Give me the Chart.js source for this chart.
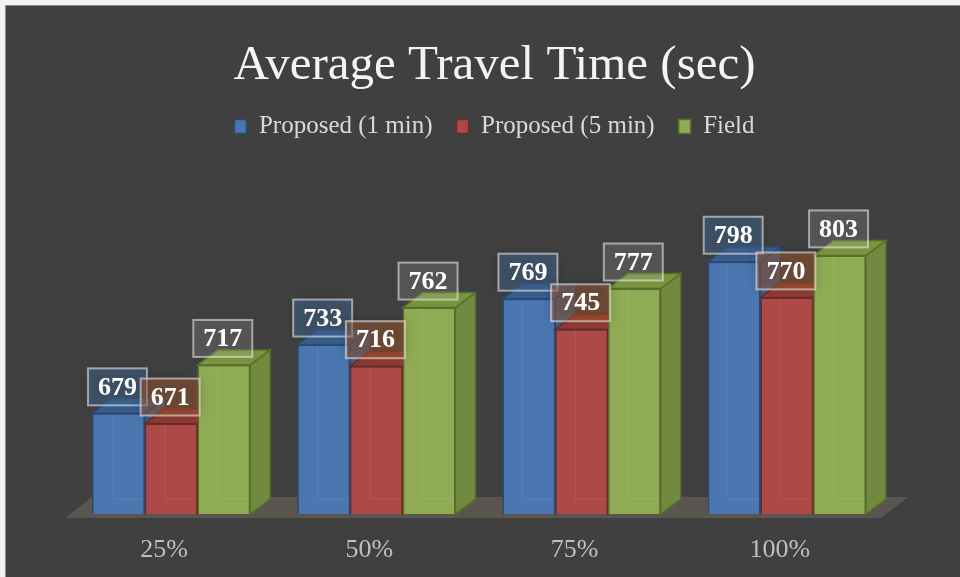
<!DOCTYPE html>
<html><head><meta charset="utf-8">
<script src="https://cdn.jsdelivr.net/npm/chart.js@4.4.1/dist/chart.umd.min.js"></script>
<style>
html,body{margin:0;padding:0;background:#f2f2f2;width:960px;height:577px;overflow:hidden}
#wrap{position:absolute;left:5px;top:5px;width:955px;height:572px;background:#404040;border-left:1px solid #8f8f8f;border-top:1px solid #8f8f8f}
canvas{display:block}
</style></head><body>
<div id="wrap"><canvas id="c" width="955" height="572"></canvas></div>
<script>
const categories = ['25%', '50%', '75%', '100%'];
const seriesNames = ['Proposed (1 min)', 'Proposed (5 min)', 'Field'];
const proposed1 = [679, 733, 769, 798];
const proposed5 = [671, 716, 745, 770];
const field = [717, 762, 777, 803];
const axisMin = 600, axisMax = 850;

const FONT = "'Liberation Serif', 'DejaVu Serif', serif";
const DX = 20, DY = -15;
const styles = [
  {front:'#4a77af', side:'#3b6192', top:'#3a6194', edge:'#2b4b73', box:'rgba(70,110,160,0.45)'},
  {front:'#ad4a48', side:'#8c3a36', top:'#923c32', edge:'#6e2a28', box:'rgba(170,95,50,0.45)'},
  {front:'#8fac54', side:'#728a40', top:'#7a963f', edge:'#55702a', box:'rgba(255,255,255,0.12)'}
];

function poly(ctx, pts, fill, stroke) {
  ctx.beginPath();
  ctx.moveTo(pts[0][0], pts[0][1]);
  for (let i = 1; i < pts.length; i++) ctx.lineTo(pts[i][0], pts[i][1]);
  ctx.closePath();
  ctx.fillStyle = fill; ctx.fill();
  if (stroke) { ctx.strokeStyle = stroke; ctx.lineWidth = 1.5; ctx.stroke(); }
}

const bars3d = {
  id: 'bars3d',
  beforeDatasetsDraw(chart) {
    const {ctx, chartArea: a} = chart;
    const b = a.bottom + 4;
    poly(ctx, [[a.left - 3.5, b], [a.right - 8.5, b], [a.right + 18.5, b - 21], [a.left + 23.5, b - 21]], '#5a564f');
  },
  afterDatasetsDraw(chart) {
    const ctx = chart.ctx;
    const a = chart.chartArea;
    const b = chart.scales.y.getPixelForValue(axisMin);
    const n = chart.data.labels.length;
    // bars, drawn left to right so that nearer faces cover hidden ones
    for (let j = 0; j < n; j++) {
      chart.data.datasets.forEach((ds, i) => {
        const st = styles[i];
        const el = chart.getDatasetMeta(i).data[j];
        const p = el.getProps(['x', 'y', 'width'], true);
        const l = p.x - p.width / 2, r = p.x + p.width / 2, t = p.y;
        ctx.save();
        ctx.beginPath();
        ctx.rect(0, 0, chart.width, a.bottom);
        ctx.clip();
        el.draw(ctx, a);
        ctx.restore();
        ctx.save();
        ctx.strokeStyle = 'rgba(255,255,255,0.08)';
        ctx.lineWidth = 1;
        ctx.beginPath();
        ctx.moveTo(l + DX, t); ctx.lineTo(l + DX, b + DY); ctx.lineTo(r, b + DY);
        ctx.stroke();
        poly(ctx, [[r, t], [r + DX, t + DY], [r + DX, b + DY], [r, b]], st.side, st.edge);
        poly(ctx, [[l, t], [r, t], [r + DX, t + DY], [l + DX, t + DY]], st.top, st.edge);
        ctx.restore();
      });
    }
    // value labels
    chart.data.datasets.forEach((ds, i) => {
      const meta = chart.getDatasetMeta(i);
      meta.data.forEach((el, j) => {
        const p = el.getProps(['x', 'y'], true);
        const w = 59, h = 37;
        const x0 = p.x - w / 2 - 1, y0 = p.y - 8 - h;
        ctx.save();
        ctx.shadowColor = 'rgba(0,0,0,0.45)';
        ctx.shadowBlur = 10;
        ctx.fillStyle = styles[i].box;
        ctx.fillRect(x0, y0, w, h);
        ctx.restore();
        ctx.save();
        ctx.strokeStyle = 'rgba(230,230,230,0.6)';
        ctx.lineWidth = 2;
        ctx.strokeRect(x0, y0, w, h);
        ctx.fillStyle = '#ffffff';
        ctx.font = "bold 26px " + FONT;
        ctx.textAlign = 'center';
        ctx.textBaseline = 'middle';
        ctx.fillText(String(ds.data[j]), x0 + w / 2, y0 + h / 2 + 1);
        ctx.restore();
      });
    });
  }
};

const seriesData = [proposed1, proposed5, field];
new Chart(document.getElementById('c'), {
  type: 'bar',
  data: {
    labels: categories,
    datasets: seriesNames.map((n, i) => ({
      label: n,
      data: seriesData[i],
      backgroundColor: styles[i].front,
      borderColor: styles[i].edge,
      borderWidth: 1.5,
      barPercentage: 1,
      categoryPercentage: 0.77
    }))
  },
  plugins: [bars3d],
  options: {
    responsive: false,
    animation: false,
    devicePixelRatio: 1,
    layout: {padding: {left: 22, right: 0, top: 0, bottom: 0}},
    plugins: {
      title: {
        display: true,
        text: 'Average Travel Time (sec)',
        color: '#f4f4f4',
        font: {family: FONT, size: 49, weight: 'normal', lineHeight: 1.0},
        padding: {top: 36, bottom: -1}
      },
      legend: {
        display: true,
        position: 'top',
        labels: {
          color: '#d9d9d9',
          font: {family: FONT, size: 25},
          boxWidth: 12,
          boxHeight: 14,
          padding: 24
        }
      },
      tooltip: {enabled: false}
    },
    scales: {
      x: {
        position: 'bottom',
        grid: {display: false, drawTicks: false},
        border: {display: false},
        ticks: {color: '#bfbfbf', font: {family: FONT, size: 26}, padding: 21, labelOffset: -7},
        afterFit(s) { s.height = 64; }
      },
      xTop: {
        type: 'category',
        axis: 'x',
        position: 'top',
        display: true,
        grid: {display: false, drawTicks: false},
        border: {display: false},
        ticks: {display: false},
        afterFit(s) { s.height = 46.5; }
      },
      y: {
        min: axisMin, max: axisMax,
        position: 'left',
        grid: {display: false, drawTicks: false},
        border: {display: false},
        ticks: {display: false},
        afterFit(s) { s.width = 40.5; }
      },
      y2: {
        type: 'linear',
        axis: 'y',
        position: 'right',
        display: true,
        grid: {display: false, drawTicks: false},
        border: {display: false},
        ticks: {display: false},
        afterFit(s) { s.width = 71.5; }
      }
    }
  }
});
</script>
</body></html>
